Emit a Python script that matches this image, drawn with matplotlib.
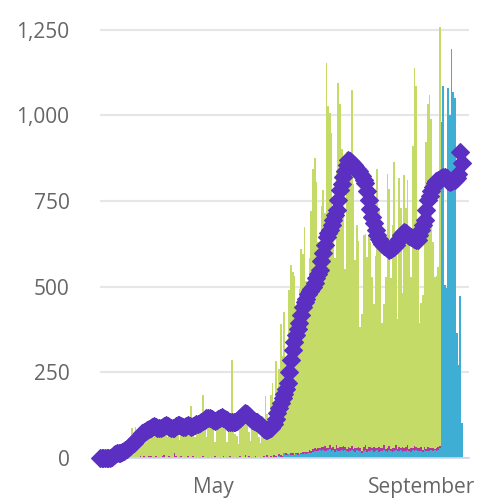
import matplotlib
matplotlib.use('Agg')
import matplotlib.pyplot as plt
import matplotlib.dates as mdates
import numpy as np
import pandas as pd

# ---- Data ----

start_date = '2020-02-24'

# daily counts, main category (green)
green = [
    0, 0, 0, 0, 0, 0, 0, 0, 0, 0,
    0, 0, 0, 0, 5, 10, 15, 30, 45, 88,
    60, 90, 70, 75, 85, 80, 90, 60, 95, 100,
    85, 105, 110, 70, 80, 95, 100, 110, 90, 105,
    60, 85, 100, 95, 90, 110, 120, 50, 95, 110,
    100, 105, 110, 100, 152, 90, 60, 110, 100, 120,
    100, 180, 90, 60, 85, 100, 110, 95, 40, 105,
    100, 110, 95, 100, 85, 45, 95, 100, 286, 90,
    70, 60, 40, 90, 100, 110, 130, 100, 70, 50,
    110, 120, 100, 90, 60, 40, 70, 80, 180, 120,
    60, 178, 216, 150, 277, 200, 250, 383, 292, 410,
    260, 200, 480, 549, 529, 520, 430, 350, 480, 593,
    578, 657, 500, 420, 560, 700, 820, 847, 780, 600,
    500, 704, 750, 680, 1125, 1000, 970, 920, 600, 560,
    800, 1065, 1000, 870, 700, 520, 865, 860, 840, 1040,
    775, 550, 650, 600, 353, 400, 620, 615, 560, 620,
    600, 500, 420, 560, 815, 700, 600, 365, 412, 500,
    800, 750, 500, 650, 835, 600, 380, 785, 700, 450,
    795, 700, 775, 600, 500, 880, 1105, 1055, 600, 365,
    420, 453, 700, 895, 1000, 1030, 960, 600, 500, 500,
    525, 1225,
    0, 0, 0, 0, 0, 0, 0, 0, 0, 0, 0, 0, 0,
]

# second category (blue) - small at first, the only one in the last days
blue = (
    [0] * 77
    + [0, 1, 0, 1, 1, 0, 2, 0, 1, 1, 0, 1, 0, 0, 2, 1, 0, 1, 0]
    + [1, 2, 1, 3, 2, 1, 2, 3, 2, 3, 5, 4]
    + [2, 15, 10, 10, 11, 9, 10, 10, 12, 10, 11, 12]
    + [13, 15, 12, 14, 16, 15, 18, 20, 19, 21]
    + [22, 20, 24, 21, 19, 23, 25, 20, 22, 18]
    + [24, 21, 20, 23, 19, 22, 20, 18, 21, 24]
    + [20, 17, 22, 19, 21, 16, 20, 23, 18, 21]
    + [19, 22, 17, 20, 23, 18, 21, 19, 24, 20]
    + [18, 22, 20, 17, 21, 23, 19, 20, 22, 18]
    + [21, 19, 23, 20, 18, 22, 20, 24, 19, 21]
    + [20, 18, 22, 19, 21, 20, 23, 19, 22, 21]
    + [24, 30]
    + [981, 1087, 505, 497, 1081, 1002, 1194, 1069, 1051, 365, 272, 473, 102]
)

# third category (magenta)
magenta = (
    [0] * 24
    + [5, 0, 6, 4, 0, 7, 5, 0, 3, 6, 0, 4, 0, 5, 8, 0]
    + [0, 6, 3, 0, 15, 5, 0, 4, 7, 0, 3, 0, 6, 0, 0, 5, 0, 4, 0, 3]
    + [0, 5, 0, 0, 4, 0, 3, 0, 6, 0, 0, 4, 0, 5, 0, 3, 0, 6, 0, 4]
    + [0, 3, 0, 5, 0, 0, 8, 0, 4, 0, 3, 0, 5, 0, 0, 4, 0, 3, 0, 6]
    + [0, 4, 0, 5, 3, 0, 6, 4]
    + [3, 0, 5, 2, 0, 6, 4, 0, 3, 5, 2, 4]
    + [5, 3, 6, 4, 8, 5, 7, 10, 6, 9]
    + [8, 12, 7, 15, 10, 6, 13, 9, 11, 7]
    + [14, 9, 12, 8, 16, 10, 7, 13, 9, 11]
    + [6, 12, 8, 14, 9, 5, 11, 15, 8, 10]
    + [12, 7, 14, 9, 6, 13, 8, 11, 15, 7]
    + [10, 14, 6, 12, 9, 16, 8, 11, 7, 13]
    + [9, 12, 15, 6, 10, 8, 14, 7, 11, 9]
    + [13, 6, 10, 8, 12, 9, 7, 11, 5, 9]
    + [8, 4]
    + [0] * 13
)

# 7-day average (purple diamonds)
avg7 = [
    0, 0, 0, 0, 0, 0, 0, 3, 8, 12,
    14, 15, 16, 18, 21, 24, 27, 31, 35, 40,
    45, 50, 56, 62, 68, 73, 77, 80, 83, 86,
    88, 91, 92, 90, 88, 87, 88, 90, 93, 95,
    93, 90, 88, 87, 89, 92, 95, 96, 94, 91,
    90, 92, 95, 93, 90, 92, 95, 98, 100, 102,
    105, 108, 112, 116, 118, 117, 114, 110, 108, 110,
    114, 118, 120, 118, 115, 110, 106, 104, 105, 106,
    105, 108, 113, 118, 123, 128, 130, 127, 122, 117,
    112, 108, 106, 105, 100, 95, 90, 86, 83, 82,
    84, 87, 92, 100, 115, 130, 145, 160, 175, 188,
    200, 220, 250, 285, 315, 340, 360, 378, 394, 418,
    441, 455, 465, 478, 487, 494, 500, 512, 525, 537,
    549, 575, 598, 622, 646, 656, 666, 680, 695, 710,
    724, 752, 782, 800, 820, 838, 855, 870, 866, 861,
    856, 850, 845, 838, 830, 822, 812, 803, 778, 753,
    728, 704, 685, 665, 650, 640, 632, 625, 620, 617,
    612, 608, 610, 614, 617, 622, 630, 640, 650, 656,
    660, 657, 652, 648, 646, 642, 638, 636, 637, 650,
    665, 680, 695, 725, 753, 765, 778, 790, 803, 808,
    812, 815, 818, 820, 820, 816, 810, 805, 808, 812,
    812, 818, 830, 894, 861,
]

y_ticks = [0, 250, 500, 750, 1000, 1250]
x_tick_dates = ['2020-05-01', '2020-09-01']
x_tick_labels = ['May', 'September']

# ---- Style ----
GREEN = '#c4dc67'
BLUE = '#3eaed5'
MAGENTA = '#b2389c'
PURPLE = '#5a2fc2'
GRID = '#e6e6e6'
LABEL = '#666666'

plt.rcParams['font.family'] = ['Open Sans', 'DejaVu Sans']

dates = pd.date_range(start_date, periods=len(green), freq='D')
xd = mdates.date2num(dates)
green = np.array(green)
blue = np.array(blue)
magenta = np.array(magenta)

fig = plt.figure(figsize=(4.89, 4.99), dpi=100)
ax = fig.add_axes([100 / 489, 41 / 499, 369 / 489, 458 / 499])

ax.bar(xd, blue, width=1.0, color=BLUE, linewidth=0, zorder=2)
ax.bar(xd, magenta, width=1.0, bottom=blue, color=MAGENTA, linewidth=0, zorder=2)
ax.bar(xd, green, width=1.0, bottom=blue + magenta, color=GREEN, linewidth=0, zorder=2)

ax.plot(xd, avg7, color=PURPLE, linewidth=3, marker='D', markersize=9.5,
        markeredgewidth=0.8, markeredgecolor=PURPLE, zorder=4, clip_on=False)

ax.set_xlim(xd[0], xd[0] + 218.3)
ax.set_ylim(0, 1337)

ax.set_yticks(y_ticks)
ax.set_yticklabels([f'{v:,}' for v in y_ticks])
ax.set_xticks(mdates.date2num(pd.to_datetime(x_tick_dates)))
ax.set_xticklabels(x_tick_labels)

ax.grid(axis='y', color=GRID, linewidth=1.5, zorder=0)
ax.set_axisbelow(True)
for side in ['top', 'right', 'left']:
    ax.spines[side].set_visible(False)
ax.spines['bottom'].set_color('#ccd6eb')
ax.spines['bottom'].set_linewidth(1.2)
ax.spines['bottom'].set_zorder(3)

ax.tick_params(axis='y', length=0, pad=22, labelsize=15, labelcolor=LABEL)
ax.tick_params(axis='x', length=0, pad=14, labelsize=15, labelcolor=LABEL)

fig.savefig('out.png', dpi=100)
